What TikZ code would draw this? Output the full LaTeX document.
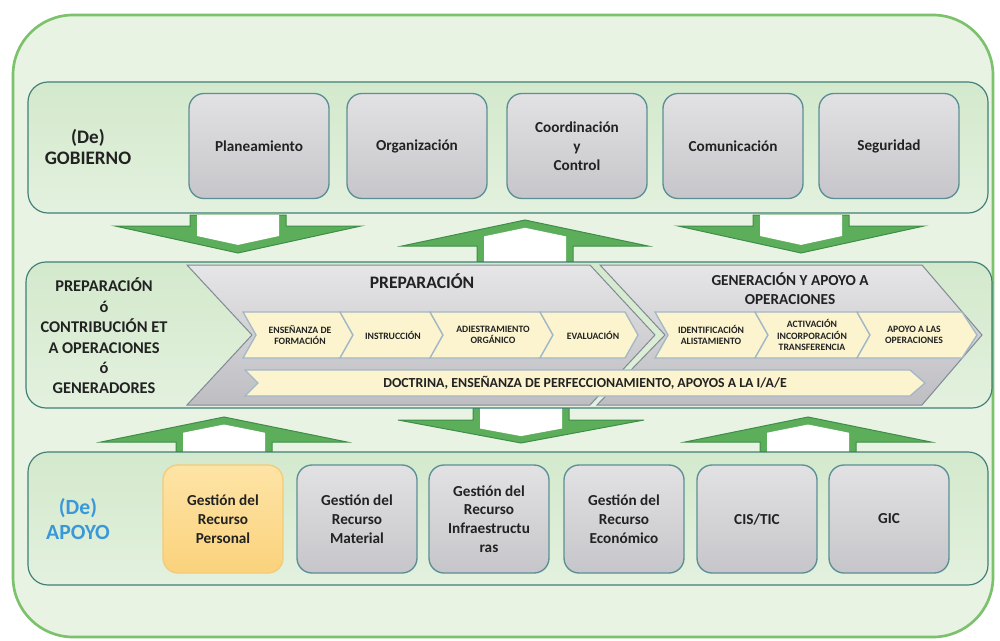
\documentclass[tikz,border=0pt]{standalone}
\usepackage{fontspec}
\setmainfont{Carlito}
\definecolor{framegreen}{HTML}{7CC26C}
\definecolor{framefill}{HTML}{E8F3E4}
\definecolor{bandline}{HTML}{3F7F78}
\definecolor{bandtop}{HTML}{D3E9CC}
\definecolor{bandbot}{HTML}{E3F1DE}
\definecolor{boxline}{HTML}{5B8F95}
\definecolor{boxtop}{HTML}{E2E2E4}
\definecolor{boxbot}{HTML}{C6C6CA}
\definecolor{orangetop}{HTML}{FDE4A6}
\definecolor{orangebot}{HTML}{FBD27C}
\definecolor{orangeline}{HTML}{F4CB78}
\definecolor{chevline}{HTML}{7F8A94}
\definecolor{chevtop}{HTML}{E6E6E8}
\definecolor{chevbot}{HTML}{BDBDC2}
\definecolor{creamfill}{HTML}{FBF4CF}
\definecolor{creamline}{HTML}{A3B8C6}
\definecolor{arrowfill}{HTML}{5CAE5A}
\definecolor{arrowline}{HTML}{3E8D48}
\definecolor{textdark}{HTML}{222222}
\definecolor{apoyoblue}{HTML}{3B98D8}
\begin{document}
\begin{tikzpicture}[x=0.3mm,y=-0.3mm,
    frame/.style={draw=framegreen, line width=0.8mm, fill=framefill, rounded corners=18mm},
    band/.style={draw=bandline, line width=0.35mm, top color=bandtop, bottom color=bandbot, rounded corners=6mm},
    procbox/.style={draw=boxline, line width=0.4mm, rounded corners=4.5mm, top color=boxtop, bottom color=boxbot,
        minimum width=42mm, minimum height=31.5mm, align=center, text=textdark,
        font=\bfseries\fontsize{13}{16}\selectfont},
    supbox/.style={procbox, minimum width=36mm, minimum height=32.4mm},
    persbox/.style={supbox, draw=orangeline, top color=orangetop, bottom color=orangebot},
    chev/.style={draw=chevline, line width=0.3mm, top color=chevtop, bottom color=chevbot},
    subchev/.style={draw=creamline, line width=0.4mm, fill=creamfill},
    sublabel/.style={align=center, text=textdark, font=\bfseries\fontsize{8.3}{9.5}\selectfont},
    bandlabel/.style={align=center, text=textdark, font=\bfseries\fontsize{16.3}{18.5}\selectfont},
    bigarrow/.style={draw=arrowline, line width=0.3mm, fill=arrowfill},
    arrowcore/.style={fill=white}]
  \useasboundingbox (0,0) rectangle (1000,640);
  \draw[frame] (13,15) rectangle (993,637);
  % arrows between the bands
  \foreach \cx/\yc/\yb/\ya in {238/215/226/253, 525/262/246/220, 801/215/226/253,
                               224/452/442/417, 521/408/420/443, 808/452/442/417}{
    \draw[bigarrow] ({\cx-48},\yc) -- ({\cx-48},\yb) -- ({\cx-123},\yb) -- (\cx,\ya)
        -- ({\cx+123},\yb) -- ({\cx+48},\yb) -- ({\cx+48},\yc) -- cycle;
    \fill[arrowcore] ({\cx-41},\yc) -- ({\cx-41},{\yb+0.37*(\ya-\yb)}) -- (\cx,{\yb+0.7*(\ya-\yb)})
        -- ({\cx+41},{\yb+0.37*(\ya-\yb)}) -- ({\cx+41},\yc) -- cycle;
  }
  \draw[band] (28,82) rectangle (988,213);
  \draw[band] (26,262) rectangle (992,408);
  \draw[band] (28,452) rectangle (988,585);

  \node[bandlabel] (gob) at (88,147) {(De)\\GOBIERNO};
  \node[procbox] (plan) at (259,146) {Planeamiento};
  \node[procbox] (org) at (417,146) {Organización};
  \node[procbox] (coord) at (577,146) {Coordinación\\y\\Control};
  \node[procbox] (com) at (733,146) {Comunicación};
  \node[procbox] (seg) at (889,146) {Seguridad};

  \node[bandlabel, font=\bfseries\fontsize{14}{17.4}\selectfont] (gen) at (104,336)
      {PREPARACIÓN\\ó\\CONTRIBUCIÓN ET\\A OPERACIONES\\ó\\GENERADORES};
  \draw[chev] (187,265) -- (590,265) -- (655,335) -- (590,405) -- (187,405) -- (252,335) -- cycle;
  \draw[chev] (600,265) -- (922,265) -- (982,335) -- (922,405) -- (597,405) -- (665,335) -- cycle;
  \node[bandlabel, font=\bfseries\fontsize{15}{17}\selectfont] (prep) at (422,281) {PREPARACIÓN};
  \node[bandlabel, font=\bfseries\fontsize{13}{16}\selectfont] (genap) at (790,289)
      {GENERACIÓN Y APOYO A\\OPERACIONES};
  \draw[subchev] (243,312) -- (340,312) -- (353,335) -- (340,358) -- (243,358) -- (256,335) -- cycle;
  \draw[subchev] (340,312) -- (430,312) -- (443,335) -- (430,358) -- (340,358) -- (353,335) -- cycle;
  \draw[subchev] (430,312) -- (540,312) -- (553,335) -- (540,358) -- (430,358) -- (443,335) -- cycle;
  \draw[subchev] (540,312) -- (625,312) -- (638,335) -- (625,358) -- (540,358) -- (553,335) -- cycle;
  \draw[subchev] (655,312) -- (755,312) -- (768,335) -- (755,358) -- (655,358) -- (668,335) -- cycle;
  \draw[subchev] (755,312) -- (857,312) -- (870,335) -- (857,358) -- (755,358) -- (768,335) -- cycle;
  \draw[subchev] (857,312) -- (962,312) -- (977,335) -- (962,358) -- (857,358) -- (870,335) -- cycle;
  \node[sublabel] (ensf) at (300,335) {ENSEÑANZA DE\\FORMACIÓN};
  \node[sublabel] (instr) at (393,335) {INSTRUCCIÓN};
  \node[sublabel] (adiest) at (493,335) {ADIESTRAMIENTO\\ORGÁNICO};
  \node[sublabel] (eval) at (593,335) {EVALUACIÓN};
  \node[sublabel] (ident) at (711,335) {IDENTIFICACIÓN\\ALISTAMIENTO};
  \node[sublabel] (activ) at (812,335) {ACTIVACIÓN\\INCORPORACIÓN\\TRANSFERENCIA};
  \node[sublabel] (apops) at (914,335) {APOYO A LAS\\OPERACIONES};
  \draw[subchev] (245,370) -- (910,370) -- (925,383) -- (910,396) -- (245,396) -- (258,383) -- cycle;
  \node[bandlabel, font=\bfseries\fontsize{11.8}{13}\selectfont] (doct) at (585,383)
      {DOCTRINA, ENSEÑANZA DE PERFECCIONAMIENTO, APOYOS A LA I/A/E};

  \node[bandlabel, text=apoyoblue, font=\bfseries\fontsize{18.5}{22}\selectfont] (apoyo) at (78,519) {(De)\\APOYO};
  \node[persbox] (rpers) at (223,519) {Gestión del\\Recurso\\Personal};
  \node[supbox] (rmat) at (357,519) {Gestión del\\Recurso\\Material};
  \node[supbox] (rinf) at (489,519) {Gestión del\\Recurso\\Infraestructu\\ras};
  \node[supbox] (reco) at (624,519) {Gestión del\\Recurso\\Económico};
  \node[supbox] (cis) at (757,519) {CIS/TIC};
  \node[supbox] (gic) at (889,519) {GIC};
\end{tikzpicture}
\end{document}
